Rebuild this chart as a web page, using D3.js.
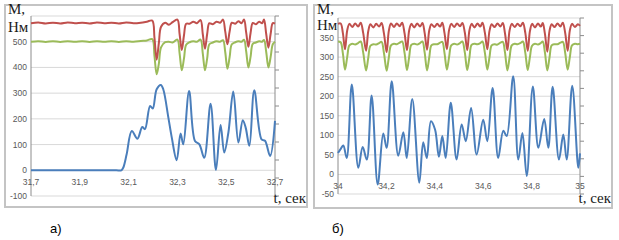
<!DOCTYPE html>
<html lang="ru">
<head>
<meta charset="utf-8">
<title>M(t)</title>
<script src="https://d3js.org/d3.v7.min.js"></script>
<style>
  body { margin: 0; background: #fff; }
  svg { display: block; }
  .box { fill: #fff; stroke: #c4c4c4; stroke-width: 2; }
  .grid line { stroke: #d9d9d9; stroke-width: 1; }
  .axisline { stroke: #8c8c8c; stroke-width: 1; }
  .tick-lbl { font-family: "Liberation Sans", Arial, sans-serif; font-size: 8.5px; fill: #595959; }
  .ttl { font-family: "Liberation Serif", "Times New Roman", serif; font-size: 15px; fill: #1a1a1a; }
  .cap { font-family: "Liberation Sans", Arial, sans-serif; font-size: 13px; fill: #000; }
  .s { fill: none; stroke-width: 2; stroke-linejoin: round; }
</style>
</head>
<body>
<svg width="619" height="240"></svg>
<script>
// ---------- panel a) 31.7 .. 32.7 s ----------
const xTicksA = [31.7, 31.9, 32.1, 32.3, 32.5, 32.7];
const yTicksA = [-100, 0, 100, 200, 300, 400, 500, 600];

const tA = [31.70, 31.73, 31.76, 31.79, 31.82, 31.85, 31.88, 31.91, 31.94, 31.97,
  32.00, 32.03, 32.06, 32.09, 32.12, 32.15, 32.175, 32.197, 32.206, 32.215, 32.224, 32.233,
  32.25, 32.265, 32.28, 32.30, 32.309, 32.318, 32.327, 32.336,
  32.35, 32.365, 32.38, 32.395, 32.404, 32.413, 32.422, 32.431,
  32.445, 32.46, 32.475, 32.487, 32.496, 32.505, 32.514, 32.523,
  32.537, 32.55, 32.563, 32.573, 32.582, 32.591, 32.600, 32.609,
  32.622, 32.635, 32.647, 32.655, 32.664, 32.673, 32.682, 32.691, 32.70];
const redA = [572, 575, 571, 574, 571, 575, 572, 574, 571, 575,
  572, 574, 571, 575, 572, 574, 578, 582, 515, 430, 495, 558,
  574, 566, 576, 586, 530, 468, 525, 570,
  570, 578, 572, 584, 530, 473, 530, 572,
  568, 578, 574, 586, 540, 490, 540, 574,
  570, 580, 572, 586, 535, 480, 535, 573,
  568, 578, 572, 586, 530, 477, 530, 572, 570];
const greenA = [500, 502, 499, 502, 499, 502, 500, 502, 499, 502,
  500, 502, 499, 502, 500, 503, 505, 510, 445, 373, 415, 478,
  498, 500, 497, 508, 455, 389, 435, 488,
  498, 502, 500, 508, 455, 389, 435, 490,
  497, 502, 500, 506, 460, 395, 440, 490,
  498, 502, 500, 508, 462, 400, 442, 492,
  497, 502, 500, 507, 460, 400, 440, 490, 500];

const tBlueA = [31.70, 32.00, 32.05, 32.07, 32.078, 32.092, 32.113, 32.136, 32.156, 32.167,
  32.188, 32.199, 32.215, 32.232, 32.242, 32.263, 32.277, 32.297, 32.313, 32.324,
  32.348, 32.372, 32.39, 32.41, 32.436, 32.458, 32.477, 32.492, 32.509, 32.529,
  32.55, 32.568, 32.58, 32.595, 32.615, 32.645, 32.659, 32.68, 32.70];
const blueA = [0, 0, 0, 0, 10, 62, 153, 123, 168, 160,
  250, 240, 315, 332, 315, 205, 127, 39, 143, 101,
  308, 114, 101, 49, 259, 1, 176, 69, 147, 306,
  108, 195, 165, 95, 311, 120, 115, 56, 192];

// ---------- panel б) 34 .. 35 s ----------
const xTicksB = [34, 34.2, 34.4, 34.6, 34.8, 35];
const yTicksB = [-50, 0, 50, 100, 150, 200, 250, 300, 350, 400];

const tB = [34.000, 34.011, 34.020,
  34.029, 34.038, 34.047, 34.059, 34.071, 34.083, 34.094, 34.104,
  34.116, 34.125, 34.134, 34.146, 34.158, 34.170, 34.180, 34.190,
  34.201, 34.210, 34.219, 34.231, 34.243, 34.255, 34.265, 34.275,
  34.285, 34.294, 34.303, 34.315, 34.327, 34.339, 34.349, 34.358,
  34.368, 34.377, 34.386, 34.398, 34.410, 34.422, 34.431, 34.440,
  34.450, 34.459, 34.468, 34.480, 34.492, 34.504, 34.514, 34.524,
  34.534, 34.543, 34.552, 34.564, 34.576, 34.588, 34.597, 34.607,
  34.617, 34.626, 34.635, 34.647, 34.659, 34.671, 34.681, 34.690,
  34.700, 34.709, 34.718, 34.730, 34.742, 34.754, 34.764, 34.774,
  34.784, 34.793, 34.802, 34.814, 34.826, 34.838, 34.846, 34.855,
  34.865, 34.874, 34.883, 34.895, 34.907, 34.919, 34.929, 34.939,
  34.949, 34.958, 34.967, 34.979, 34.991, 35.000];
const redB = [385, 386, 362,
  320, 368, 385, 377, 386, 378, 388, 362,
  316, 366, 384, 376, 385, 378, 387, 360,
  313, 367, 386, 377, 386, 379, 388, 361,
  318, 368, 385, 376, 386, 378, 387, 362,
  319, 368, 384, 377, 385, 378, 388, 362,
  320, 369, 385, 377, 386, 379, 387, 363,
  318, 368, 385, 376, 386, 378, 388, 362,
  320, 367, 384, 377, 386, 378, 387, 361,
  318, 368, 385, 377, 385, 379, 388, 362,
  316, 366, 385, 376, 386, 378, 387, 360,
  314, 367, 384, 377, 386, 378, 388, 361,
  316, 368, 385, 377, 384, 380];
const greenB = [340, 338, 310,
  268, 300, 330, 334, 332, 336, 340, 312,
  266, 298, 329, 333, 332, 336, 339, 310,
  265, 299, 330, 334, 333, 337, 340, 311,
  267, 300, 331, 334, 332, 336, 340, 312,
  266, 299, 330, 333, 333, 337, 339, 311,
  268, 300, 330, 334, 332, 336, 340, 312,
  267, 299, 331, 334, 333, 336, 340, 311,
  268, 300, 330, 333, 332, 337, 339, 312,
  266, 299, 330, 334, 333, 336, 340, 311,
  267, 300, 329, 334, 332, 336, 340, 312,
  266, 299, 330, 333, 333, 337, 339, 310,
  268, 300, 330, 334, 333, 334];

const tBlueB = [34.0, 34.012, 34.022, 34.036, 34.057, 34.084, 34.102, 34.119, 34.139, 34.164,
  34.187, 34.201, 34.222, 34.249, 34.27, 34.284, 34.307, 34.336, 34.352, 34.367,
  34.384, 34.401, 34.417, 34.431, 34.445, 34.466, 34.49, 34.511, 34.528, 34.55,
  34.573, 34.6, 34.617, 34.639, 34.662, 34.683, 34.697, 34.724, 34.745, 34.762,
  34.78, 34.805, 34.828, 34.852, 34.869, 34.887, 34.913, 34.931, 34.945, 34.968,
  34.993, 35.0];
const blueB = [55, 66, 74, 42, 230, 17, 70, 38, 202, -26,
  105, 68, 238, 48, 108, 42, 193, -21, 82, 42,
  136, 115, 45, 98, 42, 183, 38, 128, 85, 170,
  51, 140, 85, 221, 42, 112, 98, 251, 38, 106,
  -4, 225, 68, 142, 68, 224, 38, 102, 38, 227,
  17, 54];

const colors = { red: "#c0504d", green: "#9bbb59", blue: "#4a7ebb" };

const svg = d3.select("svg");
const fmt = d => String(+d.toFixed(1)).replace(".", ",");

function panel(o) {
  const g = svg.append("g");
  g.append("rect").attr("class", "box")
    .attr("x", o.box[0]).attr("y", o.box[1])
    .attr("width", o.box[2]).attr("height", o.box[3]);

  const x = d3.scaleLinear().domain(o.xDom).range([o.left, o.right]);
  const y = d3.scaleLinear().domain(o.yDom).range([o.bottom, o.top]);

  // horizontal grid
  g.append("g").attr("class", "grid")
    .selectAll("line").data(o.yTicks).join("line")
    .attr("x1", o.left).attr("x2", o.right)
    .attr("y1", d => y(d)).attr("y2", d => y(d));

  // axes lines
  g.append("line").attr("class", "axisline")
    .attr("x1", o.left).attr("x2", o.left).attr("y1", o.top).attr("y2", o.bottom);
  g.append("line").attr("class", "axisline")
    .attr("x1", o.right).attr("x2", o.right).attr("y1", o.top).attr("y2", o.bottom);

  // secondary (unlabelled) axis ticks on the right
  const y2 = d3.scaleLinear().domain([0, 10]).range([o.bottom, o.top]);
  g.append("g").selectAll("line").data(d3.range(0, 11)).join("line")
    .attr("class", "axisline")
    .attr("x1", o.right).attr("x2", o.right + 4)
    .attr("y1", d => y2(d)).attr("y2", d => y2(d));

  // y labels
  g.append("g").selectAll("text").data(o.yTicks.filter(d => d !== o.yDom[1])).join("text")
    .attr("class", "tick-lbl")
    .attr("x", o.left - 4).attr("y", d => y(d) + 3)
    .attr("text-anchor", "end")
    .text(d => d);

  // x labels, under the zero line
  g.append("g").selectAll("text").data(o.xTicks).join("text")
    .attr("class", "tick-lbl")
    .attr("x", d => x(d)).attr("y", y(0) + 15)
    .attr("text-anchor", "middle")
    .text(fmt);

  const line = d3.line().curve(d3.curveCatmullRom.alpha(0.5))
    .x(d => x(d[0])).y(d => y(d[1]));

  o.series.forEach(s => {
    g.append("path").attr("class", "s")
      .attr("stroke", s.color)
      .attr("d", line(d3.zip(s.t, s.v)));
  });

  // axis titles
  g.append("text").attr("class", "ttl").attr("x", o.box[0] + 3).attr("y", o.box[1] + 9).text("M,");
  g.append("text").attr("class", "ttl").attr("x", o.box[0] + 3).attr("y", o.box[1] + o.unitY).text("Нм");
  g.append("text").attr("class", "ttl").attr("x", o.box[0] + o.box[2] - 1).attr("y", o.box[1] + 198)
    .attr("text-anchor", "end").text("t, сек");
}

panel({
  box: [5, 5, 302, 202], unitY: 27,
  left: 31, right: 275, top: 16, bottom: 196,
  xDom: [31.7, 32.7], yDom: [-100, 600],
  xTicks: xTicksA, yTicks: yTicksA,
  series: [
    { t: tA, v: greenA, color: colors.green },
    { t: tA, v: redA, color: colors.red },
    { t: tBlueA, v: blueA, color: colors.blue }
  ]
});

panel({
  box: [314, 5, 298, 203], unitY: 25,
  left: 338, right: 580, top: 18, bottom: 194,
  xDom: [34, 35], yDom: [-50, 400],
  xTicks: xTicksB, yTicks: yTicksB,
  series: [
    { t: tB, v: greenB, color: colors.green },
    { t: tB, v: redB, color: colors.red },
    { t: tBlueB, v: blueB, color: colors.blue }
  ]
});

svg.append("text").attr("class", "cap").attr("x", 50).attr("y", 233).text("а)");
svg.append("text").attr("class", "cap").attr("x", 332).attr("y", 233).text("б)");
</script>
</body>
</html>
